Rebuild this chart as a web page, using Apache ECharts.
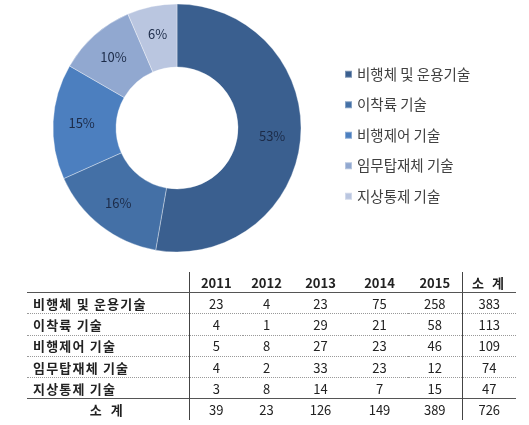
<!DOCTYPE html>
<html>
<head>
<meta charset="utf-8">
<script src="https://cdn.jsdelivr.net/npm/echarts@6/dist/echarts.min.js"></script>
<style>
    html, body { margin: 0; padding: 0; background: #fff; }
    #chart { position: absolute; left: 0; top: 0; width: 529px; height: 425px; }
    #tbl {
        position: absolute; left: 27px; top: 272px; width: 489px;
        border-collapse: collapse; table-layout: fixed;
        font-family: "Noto Sans CJK KR", "Noto Sans", sans-serif;
        font-size: 13px; color: #222;
    }
    #tbl td, #tbl th { padding: 0; text-align: center; white-space: nowrap; }
    #tbl th { font-weight: bold; height: 20px; border-bottom: 1.5px solid #555; }
    #tbl td { height: 20.3px; border-bottom: 1px dotted #999; }
    #tbl td.lab { text-align: left; padding-left: 6px; font-weight: bold; letter-spacing: 1.2px; }
    #tbl th.sp { letter-spacing: 2.5px; }
    #tbl tr.sum td { border-top: 1.5px solid #555; border-bottom: none; }
    #tbl tr.sum td.lab { text-align: center; padding-left: 0; letter-spacing: 3px; }
    #tbl .vr { border-right: 1.5px solid #444; }
</style>
</head>
<body>
<div id="chart"></div>
<table id="tbl"></table>
<script>
document.addEventListener("DOMContentLoaded", function () {
    // -------------------------------------------------
    // 데이터
    // -------------------------------------------------
    const categories = ["비행체 및 운용기술", "이착륙 기술", "비행제어 기술", "임무탑재체 기술", "지상통제 기술"];
    const years = ["2011", "2012", "2013", "2014", "2015"];
    const v2011 = [23, 4, 5, 4, 3];
    const v2012 = [4, 1, 8, 2, 8];
    const v2013 = [23, 29, 27, 33, 14];
    const v2014 = [75, 21, 23, 23, 7];
    const v2015 = [258, 58, 46, 12, 15];
    const subtotals = [383, 113, 109, 74, 47];
    const yearTotals = [39, 23, 126, 149, 389];
    const grandTotal = 726;
    const sliceColors = ["#3a5f8f", "#4470a6", "#4c7fbf", "#91a8d0", "#bac6e0"];

    // -------------------------------------------------
    // 도넛 차트
    // -------------------------------------------------
    const chart = echarts.init(document.getElementById("chart"));

    chart.setOption({
        animation: false,
        legend: {
            orient: "vertical",
            left: 339,
            top: 62,
            icon: "rect",
            itemWidth: 7,
            itemHeight: 7,
            itemGap: 16,
            textStyle: {
                fontFamily: "Noto Sans CJK KR",
                fontSize: 14.5,
                color: "#404040"
            },
            data: categories
        },
        series: [
            {
                name: "기술분야",
                type: "pie",
                center: [177, 128],
                radius: [61, 124],
                startAngle: 90,
                clockwise: true,
                itemStyle: {
                    borderColor: "rgba(255,255,255,0.35)",
                    borderWidth: 1
                },
                label: {
                    position: "inside",
                    formatter: function (p) {
                        return Math.round(p.value / grandTotal * 100) + "%";
                    },
                    fontFamily: "Noto Sans CJK KR",
                    fontSize: 13,
                    color: "#1c2b48"
                },
                labelLine: { show: false },
                data: categories.map((name, i) => ({
                    name: name,
                    value: subtotals[i],
                    itemStyle: { color: sliceColors[i] }
                }))
            }
        ]
    });

    // -------------------------------------------------
    // 표
    // -------------------------------------------------
    const cols = [v2011, v2012, v2013, v2014, v2015];
    const widths = [162, 54, 47, 61, 57, 54, 54];
    let html = "<colgroup>" + widths.map(w => `<col style="width:${w}px">`).join("") + "</colgroup>";

    html += "<tr><th class='vr'></th>";
    years.forEach((y, j) => {
        html += `<th${j === years.length - 1 ? " class='vr'" : ""}>${y}</th>`;
    });
    html += "<th class='sp'>소 계</th></tr>";

    categories.forEach((c, i) => {
        html += `<tr><td class='lab vr'>${c}</td>`;
        cols.forEach((col, j) => {
            html += `<td${j === cols.length - 1 ? " class='vr'" : ""}>${col[i]}</td>`;
        });
        html += `<td>${subtotals[i]}</td></tr>`;
    });

    html += "<tr class='sum'><td class='lab vr'>소 계</td>";
    yearTotals.forEach((t, j) => {
        html += `<td${j === yearTotals.length - 1 ? " class='vr'" : ""}>${t}</td>`;
    });
    html += `<td>${grandTotal}</td></tr>`;

    document.getElementById("tbl").innerHTML = html;
});
</script>
</body>
</html>
